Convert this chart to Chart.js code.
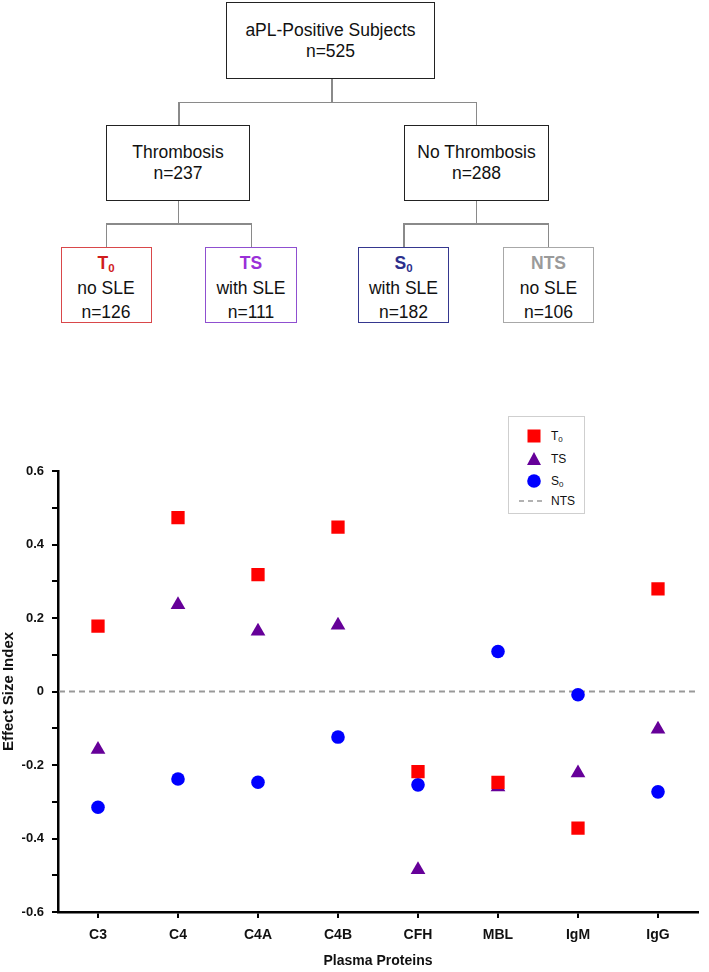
<!DOCTYPE html>
<html>
<head>
<meta charset="utf-8">
<script src="https://cdn.jsdelivr.net/npm/chart.js@4.4.1/dist/chart.umd.min.js"></script>
<style>
  html, body { margin: 0; padding: 0; background: #fff; }
  body { width: 709px; height: 972px; position: relative; overflow: hidden;
         font-family: "Liberation Sans", Arial, sans-serif; color: #111; }
  .box { position: absolute; box-sizing: border-box; background: #fff;
         text-align: center; font-size: 17.5px; }
  .top2 { border: 1.5px solid #222; line-height: 21px; display: flex;
          flex-direction: column; justify-content: center; }
  .leaf { border: 1.5px solid; line-height: 24.5px; padding-top: 3px; }
  .leaf b { font-weight: bold; }
  .leaf sub { font-size: 11.5px; vertical-align: -3px; line-height: 0; }
  .ln { position: absolute; background: #8a8a8a; }
  #chartWrap { position: absolute; left: 0; top: 400px; width: 709px; height: 572px; }
  #legend { position: absolute; left: 508px; top: 416px; width: 77px; height: 98px;
            box-sizing: border-box; border: 1px solid #cfcfcf; background: #fff;
            font-size: 12px; color: #111; }
  #legend .it { position: absolute; left: 0; height: 16px; width: 100%; }
  #legend svg { position: absolute; left: 17px; top: 0; }
  #legend span { position: absolute; left: 42px; top: 1px; line-height: 14px; }
  #legend sub { font-size: 8px; vertical-align: -2px; line-height: 0; }
</style>
</head>
<body>

<!-- flowchart -->
<div class="box top2" style="left:226px;top:2px;width:209px;height:77px;">
  <div>aPL-Positive Subjects</div><div>n=525</div>
</div>
<div class="ln" style="left:331px;top:79px;width:1.5px;height:23px;"></div>
<div class="ln" style="left:178px;top:101.5px;width:299px;height:1.5px;"></div>
<div class="ln" style="left:178px;top:102px;width:1.5px;height:23px;"></div>
<div class="ln" style="left:475.5px;top:102px;width:1.5px;height:23px;"></div>

<div class="box top2" style="left:106px;top:125px;width:144px;height:76px;">
  <div>Thrombosis</div><div>n=237</div>
</div>
<div class="box top2" style="left:404px;top:125px;width:145px;height:76px;">
  <div>No Thrombosis</div><div>n=288</div>
</div>

<div class="ln" style="left:177.5px;top:201px;width:1.5px;height:22.5px;"></div>
<div class="ln" style="left:475.5px;top:201px;width:1.5px;height:22.5px;"></div>
<div class="ln" style="left:105.5px;top:223px;width:146px;height:1.5px;"></div>
<div class="ln" style="left:403px;top:223px;width:146px;height:1.5px;"></div>
<div class="ln" style="left:105.5px;top:223px;width:1.5px;height:24px;"></div>
<div class="ln" style="left:250.5px;top:223px;width:1.5px;height:24px;"></div>
<div class="ln" style="left:403px;top:223px;width:1.5px;height:24px;"></div>
<div class="ln" style="left:547.5px;top:223px;width:1.5px;height:24px;"></div>

<div class="box leaf" style="left:60.5px;top:247px;width:91px;height:76px;border-color:#d9474a;">
  <b style="color:#d01c1c;">T<sub>0</sub></b><br>no SLE<br>n=126
</div>
<div class="box leaf" style="left:205px;top:247px;width:92px;height:76px;border-color:#8f4fd0;">
  <b style="color:#9a30d8;">TS</b><br>with SLE<br>n=111
</div>
<div class="box leaf" style="left:358px;top:247px;width:91px;height:76px;border-color:#35378f;">
  <b style="color:#2c2f8c;">S<sub>0</sub></b><br>with SLE<br>n=182
</div>
<div class="box leaf" style="left:503px;top:247px;width:91px;height:76px;border-color:#a8a8a8;">
  <b style="color:#9a9a9a;">NTS</b><br>no SLE<br>n=106
</div>

<!-- chart -->
<div id="chartWrap"><canvas id="effectChart"></canvas></div>

<div id="legend">
  <div class="it" style="top:11px;">
    <svg width="16" height="16"><rect x="1.5" y="1.5" width="13" height="13" fill="#ff0000"/></svg>
    <span>T<sub>0</sub></span>
  </div>
  <div class="it" style="top:34px;">
    <svg width="16" height="16"><polygon points="8,1 15,14 1,14" fill="#660099"/></svg>
    <span>TS</span>
  </div>
  <div class="it" style="top:56px;">
    <svg width="16" height="16"><circle cx="8" cy="8" r="6.8" fill="#0000ff"/></svg>
    <span>S<sub>0</sub></span>
  </div>
  <div class="it" style="top:76px;">
    <svg width="26" height="16" style="left:10px;"><line x1="0" y1="8" x2="24" y2="8" stroke="#999" stroke-width="1.5" stroke-dasharray="5,4"/></svg>
    <span>NTS</span>
  </div>
</div>

<script>
// 차트 데이터
var proteins = ['C3', 'C4', 'C4A', 'C4B', 'CFH', 'MBL', 'IgM', 'IgG'];
var t0Values = [0.178, 0.473, 0.318, 0.447, -0.218, -0.247, -0.372, 0.279];
var tsValues = [-0.158, 0.236, 0.164, 0.180, -0.485, -0.260, -0.222, -0.103];
var s0Values = [-0.315, -0.238, -0.247, -0.124, -0.254, 0.109, -0.009, -0.273];
var ntsLevel = 0;
var yMin = -0.6, yMax = 0.6, yStep = 0.1;

var zeroLinePlugin = {
    id: 'zeroLine',
    beforeDatasetsDraw: function(chart) {
        var area = chart.chartArea;
        var y = chart.scales.y.getPixelForValue(ntsLevel);
        var ctx = chart.ctx;
        ctx.save();
        ctx.strokeStyle = '#999999';
        ctx.lineWidth = 2;
        ctx.setLineDash([6, 4]);
        ctx.beginPath();
        ctx.moveTo(area.left + 1, y);
        ctx.lineTo(area.right, y);
        ctx.stroke();
        ctx.restore();
    }
};

document.addEventListener('DOMContentLoaded', function () {
    var ctx = document.getElementById('effectChart').getContext('2d');
    var family = '"Liberation Sans", Arial, sans-serif';

    new Chart(ctx, {
        type: 'line',
        data: {
            labels: proteins,
            datasets: [
                {
                    label: 'T0',
                    data: t0Values,
                    showLine: false,
                    pointStyle: 'rect',
                    pointRadius: 9.4,
                    pointBackgroundColor: '#ff0000',
                    pointBorderWidth: 0
                },
                {
                    label: 'TS',
                    data: tsValues,
                    showLine: false,
                    pointStyle: 'triangle',
                    pointRadius: 8.5,
                    pointBackgroundColor: '#660099',
                    pointBorderWidth: 0
                },
                {
                    label: 'S0',
                    data: s0Values,
                    showLine: false,
                    pointStyle: 'circle',
                    pointRadius: 6.8,
                    pointBackgroundColor: '#0000ff',
                    pointBorderWidth: 0
                }
            ]
        },
        options: {
            responsive: true,
            maintainAspectRatio: false,
            animation: false,
            layout: { padding: { top: 71, right: 11, left: 0, bottom: 0 } },
            plugins: {
                legend: { display: false },
                tooltip: { enabled: false }
            },
            scales: {
                x: {
                    type: 'category',
                    offset: true,
                    grid: { offset: false, drawOnChartArea: false, color: '#000', lineWidth: 2, tickLength: 6 },
                    border: { color: '#000', width: 2.5 },
                    ticks: { color: '#111', font: { family: family, size: 14, weight: 'bold' }, padding: 9, maxRotation: 0 },
                    title: { display: true, text: 'Plasma Proteins', color: '#111',
                             font: { family: family, size: 14, weight: 'bold' }, padding: { top: 0, bottom: 2 } },
                    afterFit: function(scale) { scale.height = 60; }
                },
                y: {
                    min: yMin,
                    max: yMax,
                    grid: { drawOnChartArea: false, color: '#000', lineWidth: 2, tickLength: 6 },
                    border: { color: '#000', width: 2.5 },
                    ticks: {
                        stepSize: yStep,
                        autoSkip: false,
                        color: '#111',
                        font: { family: family, size: 13, weight: 'bold' },
                        padding: 8,
                        callback: function(value) {
                            var tenth = Math.round(value * 10);
                            if (tenth % 2 !== 0) return '';
                            return tenth === 0 ? '0' : (tenth / 10).toFixed(1);
                        }
                    },
                    title: { display: true, text: 'Effect Size Index', color: '#111',
                             font: { family: family, size: 15, weight: 'bold' }, padding: 0 },
                    afterFit: function(scale) { scale.width = 58; }
                }
            }
        },
        plugins: [zeroLinePlugin]
    });
});
</script>
</body>
</html>
